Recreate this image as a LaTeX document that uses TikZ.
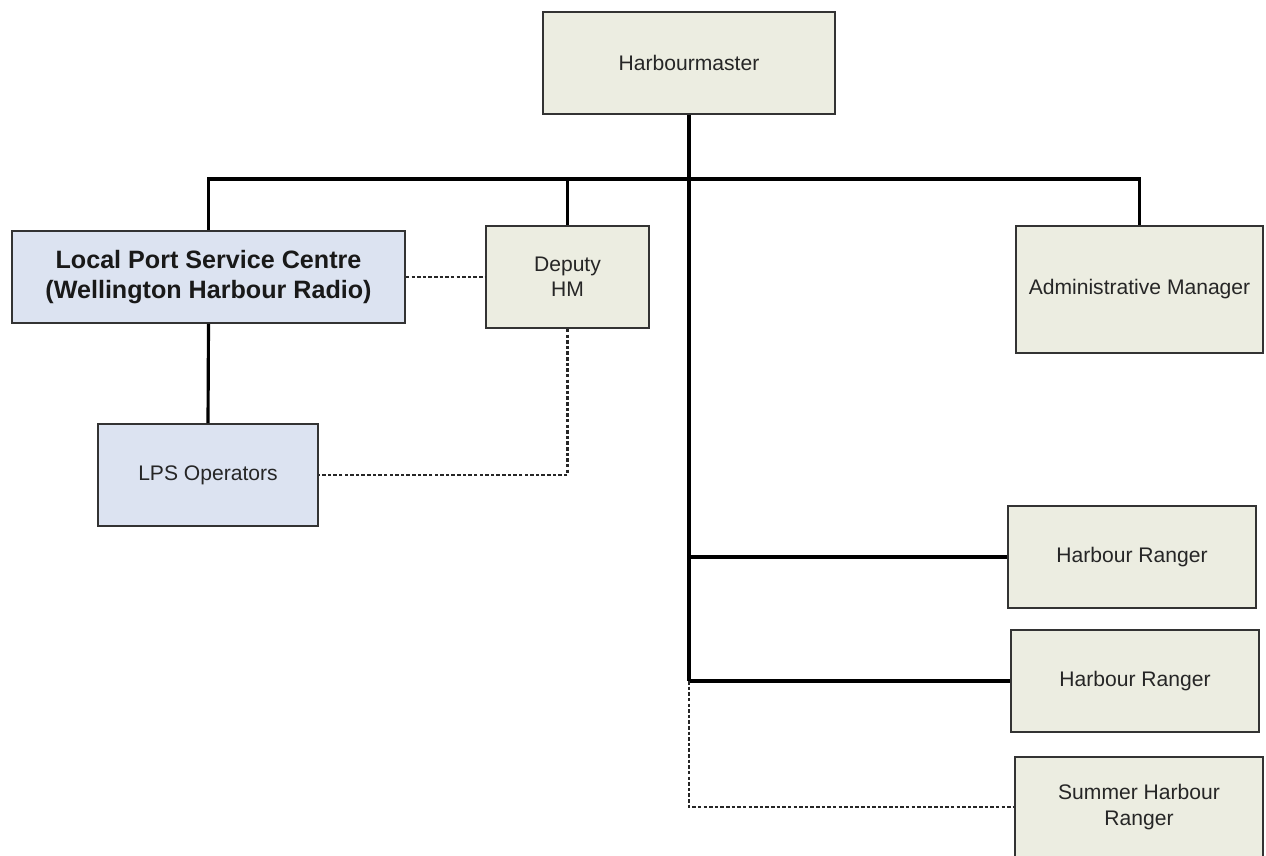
\documentclass[tikz,border=0pt]{standalone}
\usepackage{fontspec}
\setmainfont{Liberation Sans}
\begin{document}
\begin{tikzpicture}[x=0.02cm,y=-0.02cm,
  orgbox/.style={draw=black!80,line width=1.1pt,fill=beige,text=black!85,font=\fontsize{12}{14.4}\selectfont,align=center,inner sep=0pt},
  bluebox/.style={orgbox,fill=paleblue},
  solidlink/.style={line width=1.8pt,black},
  dotlink/.style={line width=1.3pt,black!85,dash pattern=on 2pt off 1.2pt}]
\definecolor{beige}{HTML}{ECEDE1}
\definecolor{paleblue}{HTML}{DCE3F1}
\useasboundingbox (0,0) rectangle (1266,855);
\clip (0,0) rectangle (1266,855);
\fill[white] (0,0) rectangle (1266,855);

\node[orgbox,minimum width=5.84cm,minimum height=2.04cm] (HM) at (689,63) {Harbourmaster};
\node[bluebox,minimum width=7.86cm,minimum height=1.84cm,font=\fontsize{14.3}{17}\selectfont\bfseries,text=black!90] (LPSC) at (208.5,277) {Local Port Service Centre\\(Wellington Harbour Radio)};
\node[bluebox,minimum width=4.40cm,minimum height=2.04cm] (LPS) at (208,475) {LPS Operators};
\node[orgbox,minimum width=3.26cm,minimum height=2.04cm] (DHM) at (567.5,277) {Deputy\\HM};
\node[orgbox,minimum width=4.94cm,minimum height=2.54cm] (AM) at (1139.5,289.5) {Administrative Manager};
\node[orgbox,minimum width=4.96cm,minimum height=2.04cm] (HR1) at (1132,557) {Harbour Ranger};
\node[orgbox,minimum width=4.96cm,minimum height=2.04cm] (HR2) at (1135,681) {Harbour Ranger};
\node[orgbox,minimum width=4.96cm,minimum height=2.00cm] (SHR) at (1139,807) {Summer Harbour\\Ranger};

\coordinate (bar) at (689,179);

\draw[solidlink] (LPSC.north) -- (LPSC.north |- bar) -- (AM.north |- bar) -- (AM.north);
\draw[solidlink] (DHM.north) -- (DHM.north |- bar);
\draw[solidlink] (HM.south) -- (HM.south |- HR2.west);
\draw[solidlink] (HR1.west -| HM.south) -- (HR1.west);
\draw[solidlink] (HR2.west -| HM.south) -- (HR2.west);
\draw[solidlink] (LPSC.south) -- (LPS.north);

\draw[dotlink] (LPSC.east) -- (DHM.west);
\draw[dotlink] (DHM.south) |- (LPS.east);
\draw[dotlink] (HR2.west -| HM.south) |- (SHR.west);
\end{tikzpicture}
\end{document}
